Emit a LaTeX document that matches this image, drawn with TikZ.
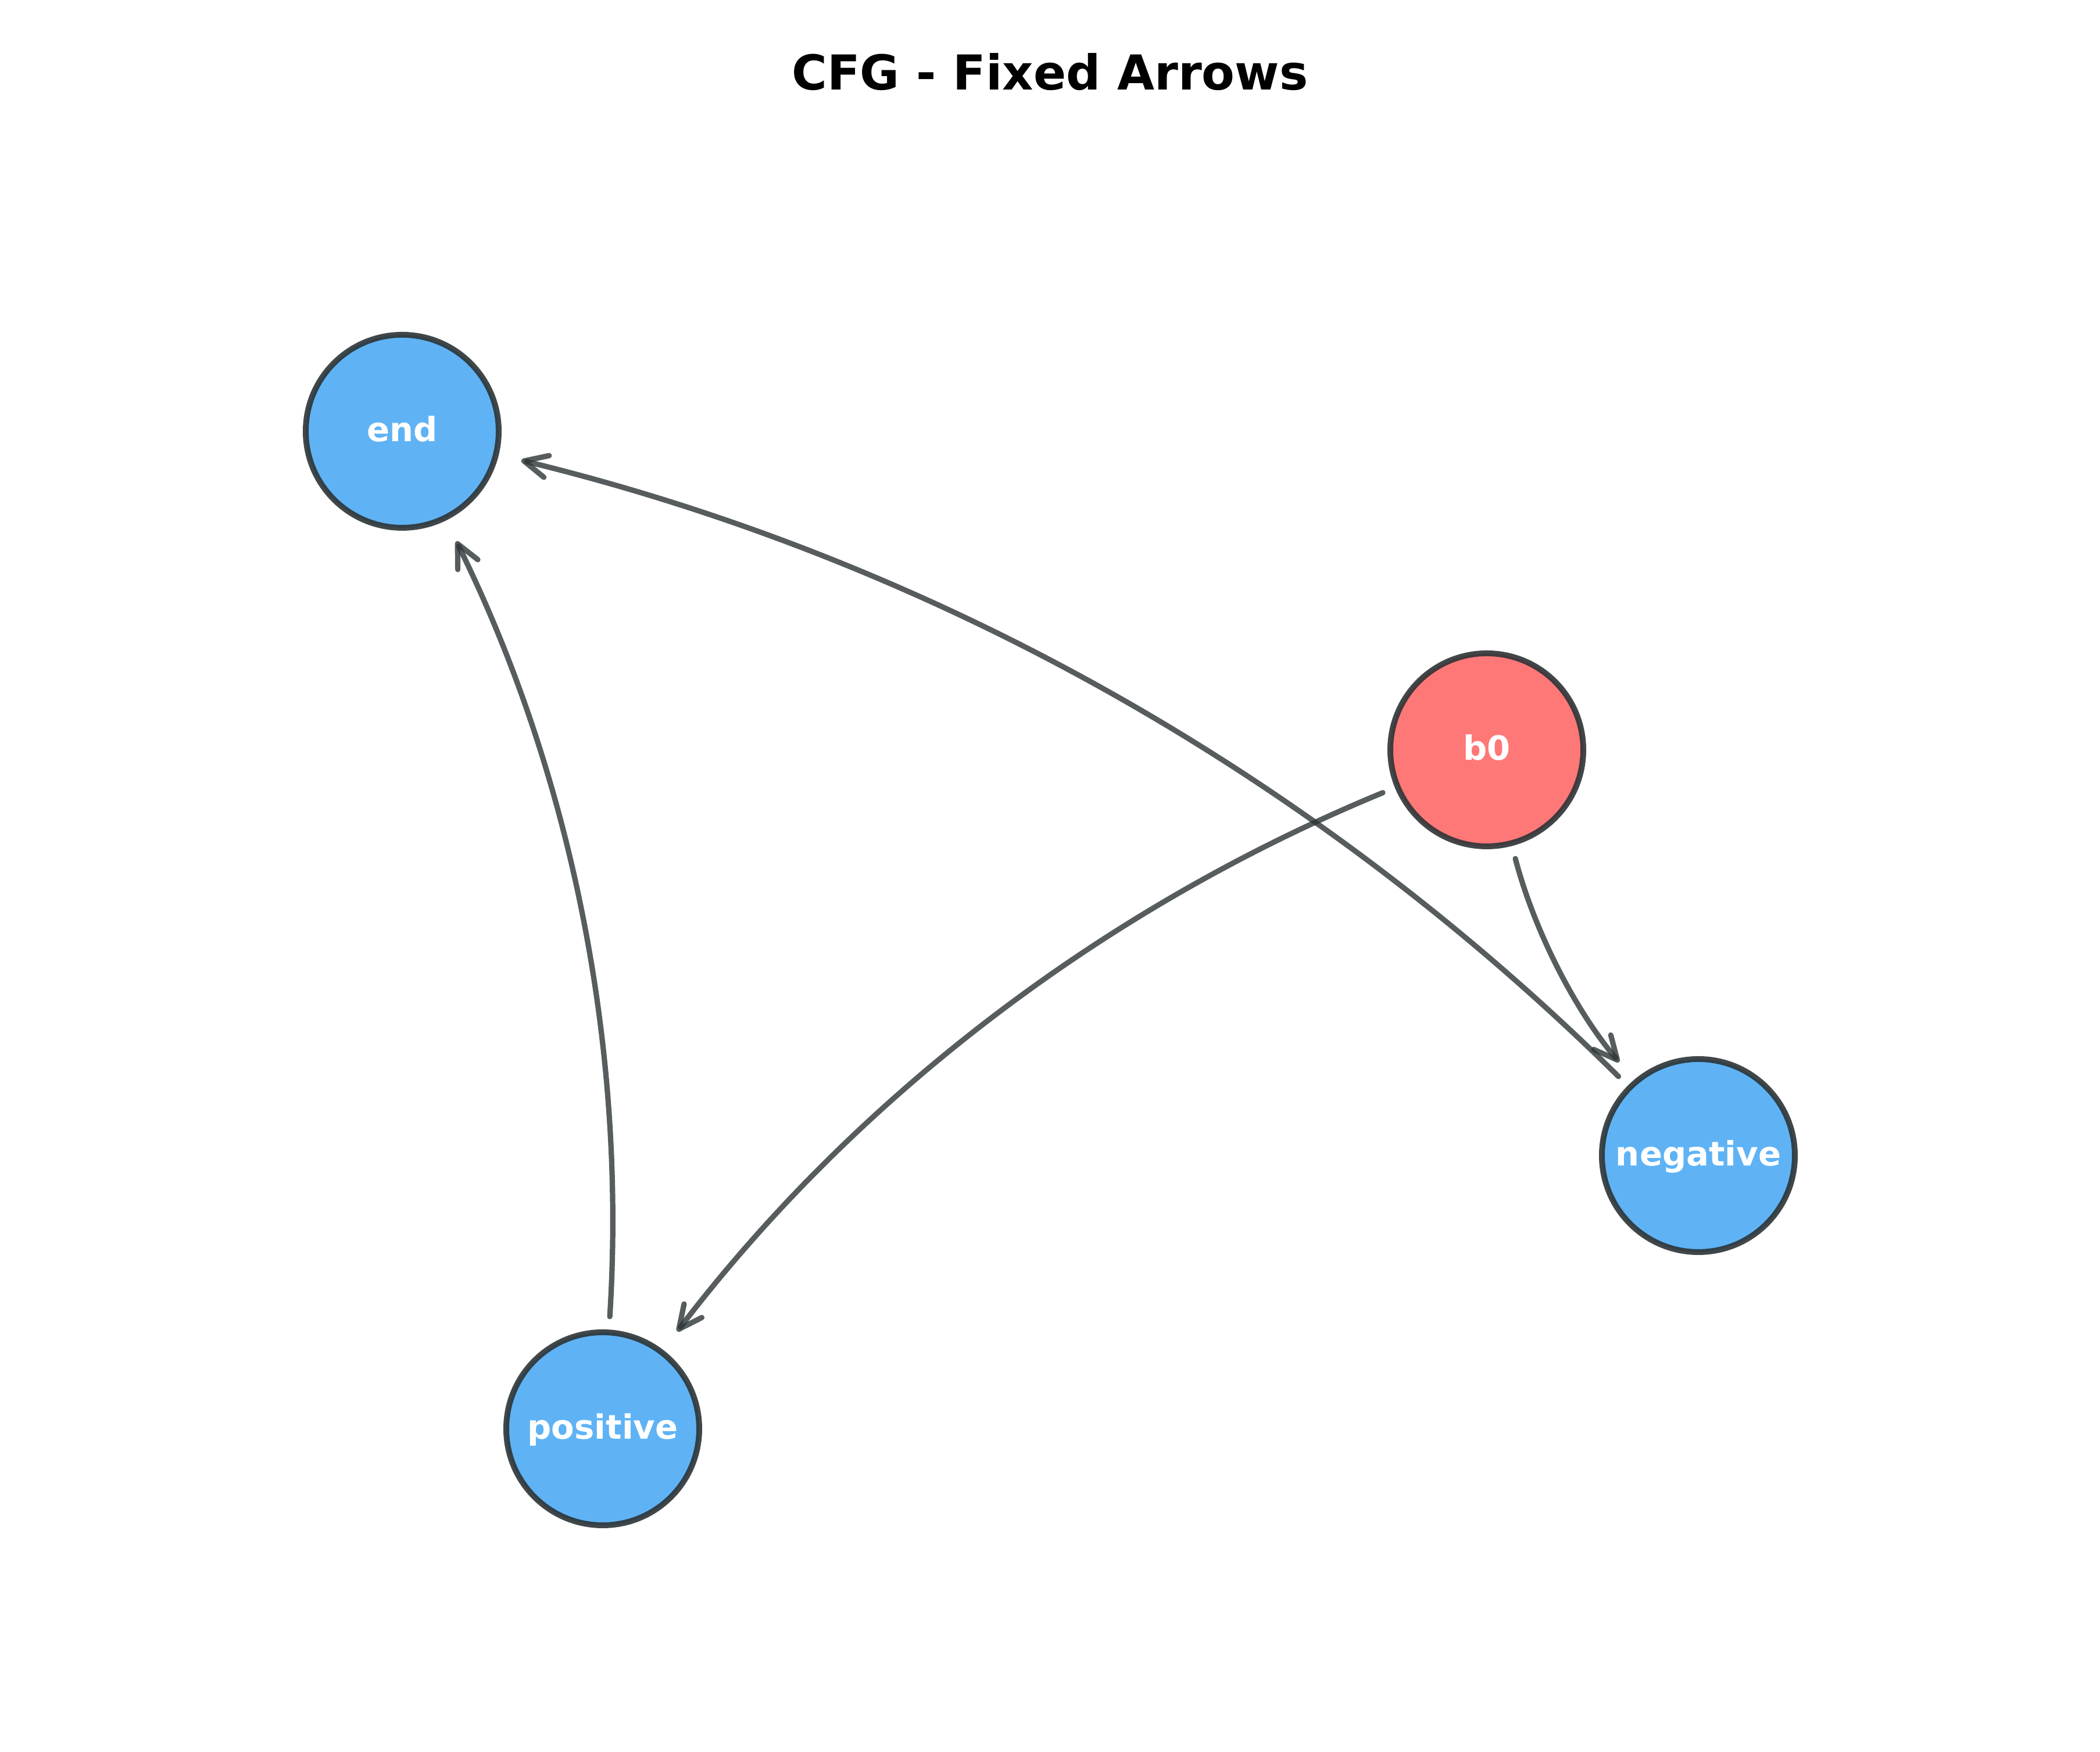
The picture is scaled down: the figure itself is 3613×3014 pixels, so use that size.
\documentclass[tikz,border=0pt]{standalone}
\usepackage{fontspec}
\setmainfont{DejaVu Sans}
\usetikzlibrary{arrows.meta}
\definecolor{nodeblue}{HTML}{5FB3F5}
\definecolor{nodered}{HTML}{FF7878}
\definecolor{ink}{HTML}{2D3436}
\begin{document}
\begin{tikzpicture}[x=0.25pt,y=0.25pt,
  cfgnode/.style={circle, minimum size=83pt, inner sep=0pt, line width=2.5pt,
    draw=ink, draw opacity=0.9, text=white,
    font=\fontsize{14.4}{16}\selectfont\bfseries, text height=9pt, text depth=0pt},
  edge/.style={draw=ink, draw opacity=0.8, line width=2.3pt, line cap=round,
    -{Straight Barb[length=10pt,width=9.6pt,round]},
    shorten <=5.6pt, shorten >=10pt}]
\fill[white] (0,0) rectangle (3613,3014);
\useasboundingbox (0,0) rectangle (3613,3014);
\node[font=\fontsize{20.7}{24}\selectfont\bfseries, anchor=base, inner sep=0pt] (title) at (1806.5,2859) {CFG - Fixed Arrows};
\node[cfgnode, fill=nodeblue] (end) at (692,2272) {end};
\node[cfgnode, fill=nodered] (b0) at (2558,1724) {b0};
\node[cfgnode, fill=nodeblue] (neg) at (2922,1026) {negative};
\node[cfgnode, fill=nodeblue] (pos) at (1037,556) {positive};
\draw[edge] (b0) .. controls +(-75.3:324.6) and +(130.3:324.6) .. (neg);
\draw[edge] (b0) .. controls +(-157.6:716.3) and +(52.6:716.3) .. (pos);
\draw[edge] (neg) .. controls +(135.3:937.5) and +(-13.7:937.5) .. (end);
\draw[edge] (pos) .. controls +(86.4:658.2) and +(-63.8:658.2) .. (end);
\end{tikzpicture}
\end{document}
